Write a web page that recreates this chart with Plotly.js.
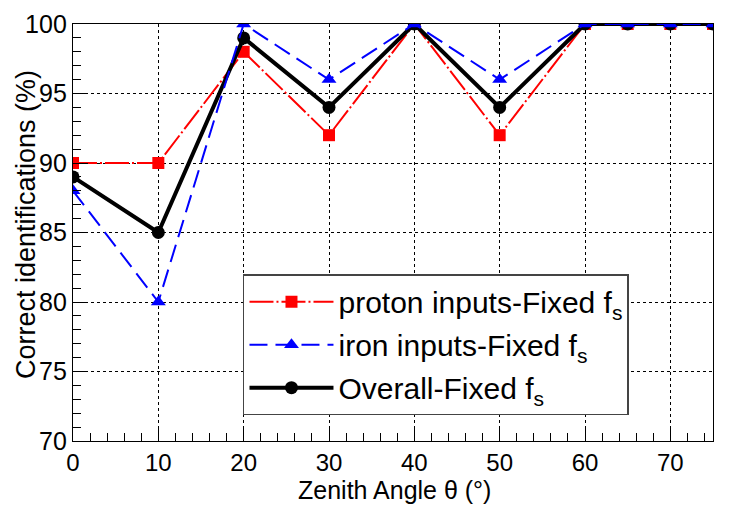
<!DOCTYPE html>
<html>
<head>
<meta charset="utf-8">
<script src="https://cdn.plot.ly/plotly-3.0.1.min.js"></script>
<style>
  html, body { margin: 0; padding: 0; background: #fff; }
  #chart { width: 747px; height: 505px; }
</style>
</head>
<body>
<div id="chart"></div>
<script>
// Zenith angles (deg) and correct-identification rates (%)
const zenith  = [0, 10, 20, 30, 40, 50, 60, 65, 70, 75];
const proton  = [90, 90, 98, 92, 100, 92, 100, 100, 100, 100];
const iron    = [88, 80, 100, 96, 100, 96, 100, 100, 100, 100];
const overall = [89, 85, 99, 94, 100, 94, 100, 100, 100, 100];
const xTicks  = [0, 10, 20, 30, 40, 50, 60, 70];

const FONT = 'Liberation Sans, Arial, sans-serif';

// ROOT-like frame: box, inward ticks, dotted grid
const AXIS_BASE = {
  showline: true,
  linecolor: '#000',
  linewidth: 1.2,
  mirror: true,
  ticks: 'inside',
  ticklen: 15,
  tickcolor: '#000',
  showgrid: true,
  gridcolor: '#000',
  griddash: 'dot',
  gridwidth: 1,
  zeroline: false,
  tickfont: { family: FONT, size: 25, color: '#000' },
};

const traces = [
  {
    x: zenith, y: proton,
    mode: 'lines+markers',
    name: 'proton inputs-Fixed f<sub>s</sub>',
    legendrank: 1, legendgroup: 'p',
    line: { color: '#ff0000', width: 2, dash: '24px,3px,2px,3px' },
    marker: { color: '#ff0000', symbol: 'square', size: 12 },
  },
  {
    x: zenith, y: overall,
    mode: 'lines+markers',
    name: 'Overall-Fixed f<sub>s</sub>',
    legendrank: 3, legendgroup: 'o',
    line: { color: '#000', width: 4 },
    marker: { color: '#000', symbol: 'circle', size: 13 },
  },
  {
    x: zenith, y: iron,
    mode: 'lines+markers',
    name: 'iron inputs-Fixed f<sub>s</sub>',
    legendrank: 2, legendgroup: 'i',
    line: { color: '#0000ff', width: 2, dash: '18px,8px' },
    marker: { color: '#0000ff', symbol: 'triangle-up', size: 13 },
  },
];

const layout = {
  width: 747,
  height: 505,
  paper_bgcolor: '#fff',
  plot_bgcolor: '#fff',
  margin: { t: 24, r: 34, b: 64, l: 73 },
  showlegend: true,
  legend: {
    x: 0.2656, y: 0.40,
    xanchor: 'left', yanchor: 'top',
    bgcolor: '#fff',
    bordercolor: '#444',
    borderwidth: 1.5,
    font: { family: FONT, size: 30, color: '#000' },
    itemwidth: 84,
    tracegroupgap: 1,
  },
  xaxis: {
    ...AXIS_BASE,
    range: [0, 75],
    tickvals: xTicks,
    tickfont: { family: FONT, size: 24, color: '#000' },
    minor: { dtick: 2, ticks: 'inside', ticklen: 8, tickcolor: '#000', showgrid: false },
  },
  yaxis: {
    ...AXIS_BASE,
    range: [70, 100],
    dtick: 5,
    minor: { dtick: 1, ticks: 'inside', ticklen: 8, tickcolor: '#000', showgrid: false },
  },
  // axis titles placed as annotations so they sit where ROOT puts them
  annotations: [
    {
      text: 'Zenith Angle θ (°)',
      xref: 'paper', yref: 'paper', x: 0.5016, y: -0.1535,
      xanchor: 'center', yanchor: 'bottom', showarrow: false, borderpad: 0,
      font: { family: FONT, size: 25, color: '#000' },
    },
    {
      text: 'Correct identifications (%)',
      xref: 'paper', yref: 'paper', x: -0.0734, y: 0.518,
      xanchor: 'center', yanchor: 'middle', showarrow: false, textangle: -90,
      font: { family: FONT, size: 27, color: '#000' },
    },
  ],
};

Plotly.newPlot('chart', traces, layout, { displayModeBar: false, staticPlot: true });
</script>
</body>
</html>
